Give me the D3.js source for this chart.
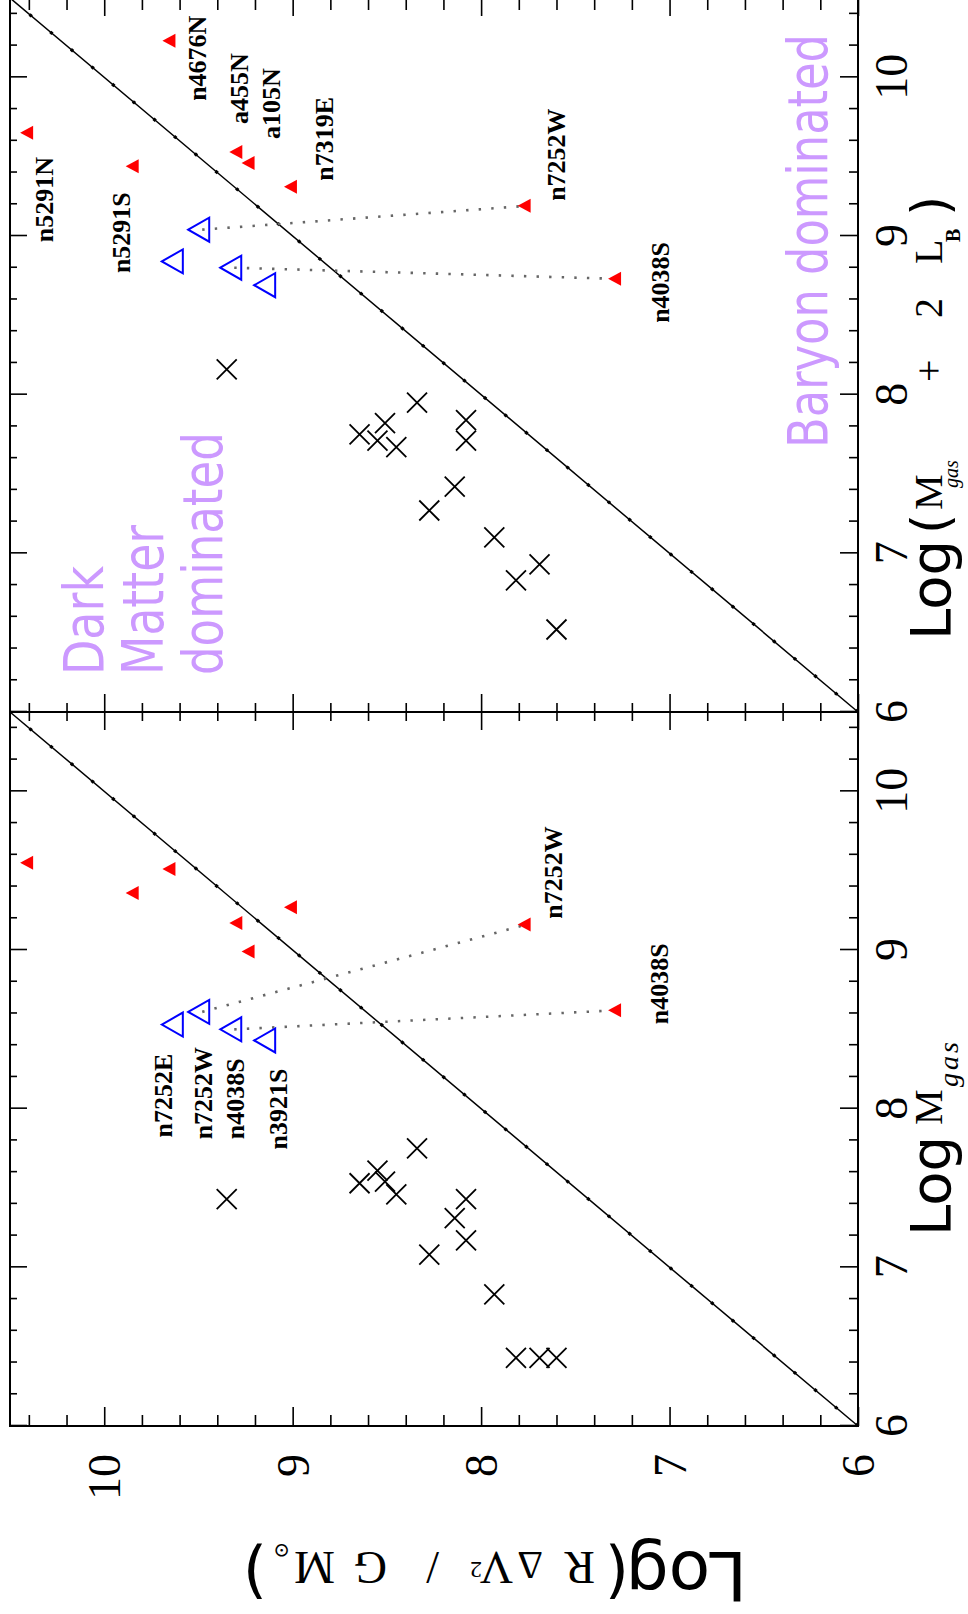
<!DOCTYPE html>
<html>
<head>
<meta charset="utf-8">
<script src="https://cdn.jsdelivr.net/npm/d3@7/dist/d3.min.js"></script>
<style>
  body { margin: 0; background: #fff; }
  svg { display: block; }
</style>
</head>
<body>
<script>
// The figure is a landscape two-panel plot, drawn in its own frame (1614 x 968)
// and then turned a quarter turn counter-clockwise onto the 968 x 1614 page.
var pageW = 968, pageH = 1614;

// ---- data -------------------------------------------------------------
// black crosses: y = Log(R dV^2 / G M), x = Log M_gas (left), Log(M_gas + 2 L_B) (right)
var crossY   = [9.35, 8.645, 8.55, 8.51, 8.45, 8.34, 8.08, 8.08, 8.14, 8.275, 7.93, 7.815, 7.69, 7.60];
var crossGas = [7.43, 7.53, 7.61, 7.54, 7.46, 7.75, 7.43, 7.17, 7.31, 7.08, 6.83, 6.43, 6.43, 6.43];
var crossTot = [8.16, 7.75, 7.71, 7.82, 7.67, 7.95, 7.84, 7.71, 7.42, 7.27, 7.10, 6.83, 6.93, 6.52];

// red filled triangles
var redNames = ["n5291N", "n4676N", "n5291S", "n7319E", "a455N", "a105N", "n7252W", "n4038S"];
var redY     = [10.40, 9.645, 9.84, 9.00, 9.29, 9.225, 7.76, 7.28];
var redGas   = [9.55, 9.51, 9.36, 9.27, 9.17, 8.99, 9.16, 8.62];
var redTot   = [9.65, 10.23, 9.44, 9.31, 9.53, 9.46, 9.19, 8.73];

// blue open triangles
var blueNames = ["n7252E", "n7252W", "n4038S", "n3921S"];
var blueY     = [9.62, 9.48, 9.31, 9.13];
var blueGas   = [8.53, 8.61, 8.50, 8.43];
var blueTot   = [8.84, 9.04, 8.80, 8.69];

// blue -> red pairs joined by a dotted line
var linked = ["n7252W", "n4038S"];

// axis ticks
var tickMajor = [6, 7, 8, 9, 10];
var tickLabels = ["6", "7", "8", "9", "10"];

// ---- layout -------------------------------------------------------------
var y = d3.scaleLinear().domain([6, 10.5]).range([858, 10]);

// label placement relative to its point (anchor, dx, dy in figure pixels)
var leftLabels = [
  {kind: "blue", name: "n7252E", anchor: "end", dx: -29, dy: -4},
  {kind: "blue", name: "n7252W", anchor: "end", dx: -35, dy: 10},
  {kind: "blue", name: "n4038S", anchor: "end", dx: -29, dy: 10},
  {kind: "blue", name: "n3921S", anchor: "end", dx: -28, dy: 19},
  {kind: "red", name: "n7252W", anchor: "start", dx: 6, dy: 36},
  {kind: "red", name: "n4038S", anchor: "start", dx: -14, dy: 51}
];
var rightLabels = [
  {kind: "red", name: "n5291N", anchor: "end", dx: -24, dy: 24},
  {kind: "red", name: "n4676N", anchor: "start", dx: -60, dy: 35},
  {kind: "red", name: "n5291S", anchor: "end", dx: -26, dy: -4},
  {kind: "red", name: "a455N", anchor: "start", dx: 28, dy: 10},
  {kind: "red", name: "a105N", anchor: "start", dx: 24, dy: 30},
  {kind: "red", name: "n7319E", anchor: "start", dx: 6, dy: 40},
  {kind: "red", name: "n7252W", anchor: "start", dx: 5, dy: 39},
  {kind: "red", name: "n4038S", anchor: "start", dx: -44, dy: 52}
];

var panels = [
  {x: d3.scaleLinear().domain([6, 10.5]).range([188, 902]),
   crossX: crossGas, redX: redGas, blueX: blueGas, labels: leftLabels},
  {x: d3.scaleLinear().domain([6, 10.5]).range([902, 1616]),
   crossX: crossTot, redX: redTot, blueX: blueTot, labels: rightLabels}
];

var serif = "'Liberation Serif', 'DejaVu Serif', serif";
var sans = "'DejaVu Sans', Verdana, sans-serif";

var svg = d3.select("body").append("svg")
    .attr("width", pageW)
    .attr("height", pageH);

var fig = svg.append("g")
    .attr("transform", "translate(0," + pageH + ") rotate(-90)");

var minorTicks = d3.range(6, 10.45, 0.2).filter(function(v) {
  return Math.abs(v - Math.round(v)) > 1e-6;
});

function styleAxis(g) {
  g.select(".domain").remove();
  g.selectAll("line").attr("stroke", "#000").attr("stroke-width", 1.6);
}

panels.forEach(function(p, pi) {
  var x = p.x;
  var x0 = x.range()[0], x1 = x.range()[1];

  // ---- ticks ----
  // bottom (inward = up)
  fig.append("g").attr("transform", "translate(0,858)")
      .call(d3.axisBottom(x).tickValues(minorTicks).tickSize(-9).tickFormat(""))
      .call(styleAxis);
  var bx = fig.append("g").attr("transform", "translate(0,858)")
      .call(d3.axisBottom(x).tickValues(tickMajor).tickSize(-18)
        .tickFormat(function(d, i) { return tickLabels[i]; }))
      .call(styleAxis);
  bx.selectAll("text")
      .attr("y", 49).attr("dy", null)
      .attr("font-family", serif).attr("font-size", 46).attr("fill", "#000");

  // top (inward = down)
  fig.append("g").attr("transform", "translate(0,10)")
      .call(d3.axisTop(x).tickValues(minorTicks).tickSize(-7).tickFormat(""))
      .call(styleAxis);
  fig.append("g").attr("transform", "translate(0,10)")
      .call(d3.axisTop(x).tickValues(tickMajor).tickSize(-17).tickFormat(""))
      .call(styleAxis);

  // left side of panel (inward = right)
  var yMinor = d3.range(6.2, 10.45, 0.2).filter(function(v) {
    return Math.abs(v - Math.round(v)) > 1e-6;
  });
  var lenMinor = pi === 0 ? 11 : 9;
  var lenMajor = pi === 0 ? 19 : 18;
  fig.append("g").attr("transform", "translate(" + x0 + ",0)")
      .call(d3.axisRight(y).tickValues(yMinor).tickSize(lenMinor).tickFormat(""))
      .call(styleAxis);
  var ly = fig.append("g").attr("transform", "translate(" + x0 + ",0)")
      .call(d3.axisRight(y).tickValues(tickMajor).tickSize(lenMajor)
        .tickFormat(function(d, i) { return pi === 0 ? tickLabels[i] : ""; }))
      .call(styleAxis);
  ly.selectAll("text")
      .attr("x", -28).attr("dy", "0.34em")
      .attr("text-anchor", "end")
      .attr("font-family", serif).attr("font-size", 46).attr("fill", "#000");

  // right side of panel (inward = left)
  fig.append("g").attr("transform", "translate(" + x1 + ",0)")
      .call(d3.axisLeft(y).tickValues(yMinor).tickSize(pi === 0 ? 9 : 12).tickFormat(""))
      .call(styleAxis);
  fig.append("g").attr("transform", "translate(" + x1 + ",0)")
      .call(d3.axisLeft(y).tickValues(tickMajor).tickSize(18).tickFormat(""))
      .call(styleAxis);

  // ---- frame ----
  fig.append("rect")
      .attr("x", x0).attr("y", y(10.5))
      .attr("width", x1 - x0).attr("height", y(6) - y(10.5))
      .attr("fill", "none").attr("stroke", "#000").attr("stroke-width", 2);

  // ---- one-to-one line ----
  var diag = d3.line().x(function(d) { return x(d); }).y(function(d) { return y(d); });
  fig.append("path").datum([6, 10.5])
      .attr("d", diag).attr("fill", "none")
      .attr("stroke", "#000").attr("stroke-width", 1.5);
  fig.append("path").datum([6, 10.5])
      .attr("d", diag).attr("fill", "none")
      .attr("stroke", "#000").attr("stroke-width", 3.2)
      .attr("stroke-dasharray", "3,24");

  // ---- dotted links blue -> red ----
  linked.forEach(function(name) {
    var b = blueNames.indexOf(name), r = redNames.indexOf(name);
    fig.append("line")
        .attr("x1", x(p.blueX[b])).attr("y1", y(blueY[b]))
        .attr("x2", x(p.redX[r])).attr("y2", y(redY[r]))
        .attr("stroke", "#666").attr("stroke-width", 2.6)
        .attr("stroke-dasharray", "2.4,10.2");
  });

  // ---- crosses ----
  fig.append("g").selectAll("path")
      .data(crossY)
      .join("path")
      .attr("transform", function(d, i) {
        return "translate(" + x(p.crossX[i]) + "," + y(d) + ")";
      })
      .attr("d", "M-10,-10L10,10M-10,10L10,-10")
      .attr("stroke", "#000").attr("stroke-width", 1.8).attr("fill", "none");

  // ---- red filled triangles ----
  fig.append("g").selectAll("path")
      .data(redY)
      .join("path")
      .attr("transform", function(d, i) {
        return "translate(" + x(p.redX[i]) + "," + y(d) + ")";
      })
      .attr("d", "M0,-8.7L7,4.3L-7,4.3Z")
      .attr("fill", "#ff0000");

  // ---- blue open triangles ----
  fig.append("g").selectAll("path")
      .data(blueY)
      .join("path")
      .attr("transform", function(d, i) {
        return "translate(" + x(p.blueX[i]) + "," + y(d) + ")";
      })
      .attr("d", "M0,-14L12,7L-12,7Z")
      .attr("fill", "none").attr("stroke", "#0000ff").attr("stroke-width", 2);

  // ---- galaxy names ----
  fig.append("g").selectAll("text")
      .data(p.labels)
      .join("text")
      .attr("x", function(d) {
        var i = d.kind === "red" ? redNames.indexOf(d.name) : blueNames.indexOf(d.name);
        var xv = d.kind === "red" ? p.redX[i] : p.blueX[i];
        return x(xv) + d.dx;
      })
      .attr("y", function(d) {
        var i = d.kind === "red" ? redNames.indexOf(d.name) : blueNames.indexOf(d.name);
        var yv = d.kind === "red" ? redY[i] : blueY[i];
        return y(yv) + d.dy;
      })
      .attr("text-anchor", function(d) { return d.anchor; })
      .attr("font-family", serif).attr("font-weight", "bold").attr("font-size", 26)
      .attr("fill", "#000")
      .text(function(d) { return d.name; });
});

// ---- axis titles ----
function piece(parent, t, px, py, family, size, extra) {
  var el = parent.append("text")
      .attr("x", px).attr("y", py)
      .attr("font-family", family).attr("font-size", size)
      .attr("fill", "#000")
      .text(t);
  if (extra) extra(el);
  return el;
}

// left panel: Log M_gas
piece(fig, "Log", 378, 950, sans, 56);
piece(fig, "M", 489, 942, serif, 40);
piece(fig, "gas", 527, 958, serif, 28, function(e) {
  e.attr("font-style", "italic").attr("letter-spacing", 3);
});

// right panel: Log (M_gas + 2 L_B)
piece(fig, "Log", 974, 950, sans, 56);
piece(fig, "(", 1080, 948, sans, 52);
piece(fig, "M", 1104, 942, serif, 40);
piece(fig, "gas", 1126, 958, serif, 20, function(e) { e.attr("font-style", "italic"); });
piece(fig, "+", 1232, 942, serif, 40);
piece(fig, "2", 1296, 942, serif, 40);
piece(fig, "L", 1350, 942, serif, 40);
piece(fig, "B", 1372, 960, serif, 20, function(e) { e.attr("font-weight", "bold"); });
piece(fig, ")", 1398, 948, sans, 52);

// y title, reading upward along the left edge
var yt = fig.append("g").attr("transform", "translate(62,747) rotate(-90)");
piece(yt, "Log", 0, 0, sans, 68);
piece(yt, "(", 118, 0, sans, 62);
piece(yt, "R", 152, 0, serif, 46);
piece(yt, "\u0394", 204, 0, serif, 40);
piece(yt, "V", 234, 0, serif, 46);
piece(yt, "2", 265, -10, serif, 24);
piece(yt, "/", 308, 0, serif, 46);
piece(yt, "G", 360, 0, serif, 46);
piece(yt, "M", 412, 0, serif, 46);
piece(yt, "\u2299", 457, 8, serif, 20);
piece(yt, ")", 480, 0, sans, 62);

// ---- region notes (narrowed sans, squeezed to the measured width) ----
var lilac = "#cc99ff";
function note(t, px, py, width, anchor) {
  var g = fig.append("g");
  var txt = g.append("text")
      .attr("x", 0).attr("y", 0)
      .attr("text-anchor", anchor)
      .attr("font-family", sans).attr("font-size", 56)
      .attr("fill", lilac)
      .text(t);
  var natural = txt.node().getComputedTextLength();
  g.attr("transform", "translate(" + px + "," + py + ") scale(" + (width / natural) + ",1)");
}
note("Dark", 939, 103, 109, "start");
note("Matter", 939, 163, 150, "start");
note("dominated", 939, 222, 243, "start");
note("Baryon dominated", 1580, 827, 414, "end");
</script>
</body>
</html>
